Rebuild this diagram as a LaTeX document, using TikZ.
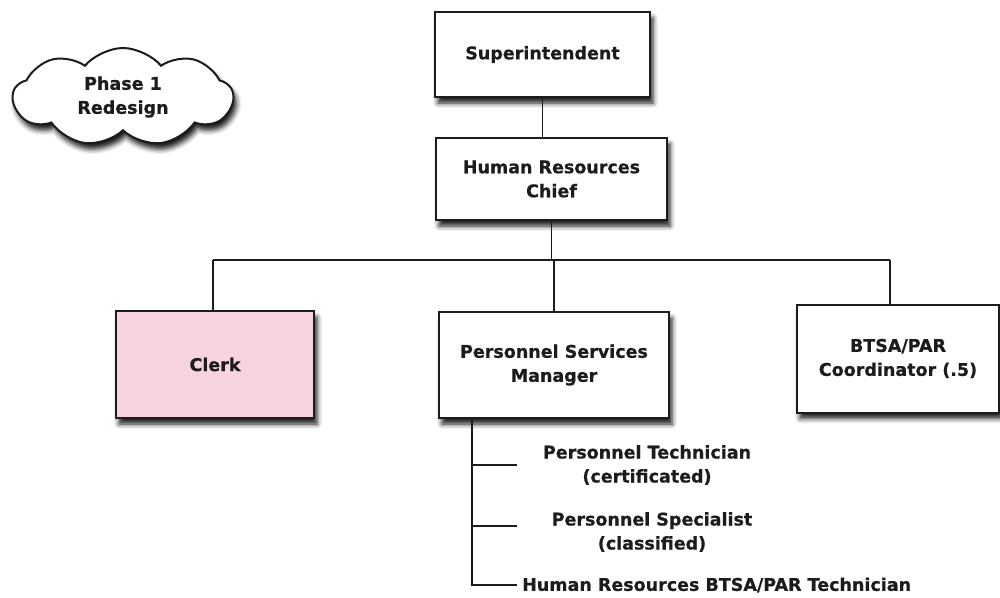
\documentclass[tikz,border=0pt]{standalone}
\usepackage{fontspec}
\setmainfont{DejaVu Sans}
\newfontfamily\heavy[FakeBold=0.6]{DejaVu Sans Bold}
\usetikzlibrary{shapes.symbols,shadows.blur}
\definecolor{pinkfill}{HTML}{F8D4E0}
\definecolor{edge}{HTML}{1C1C1C}
\begin{document}
\begin{tikzpicture}[x=1pt,y=-1pt,
  txt/.style={font=\heavy\fontsize{17.5}{24}\selectfont, align=center, text=edge},
  shade/.style={blur shadow={shadow xshift=3pt, shadow yshift=-6pt, shadow blur radius=5pt, shadow opacity=90}},
  box/.style={txt, shade, draw=edge, line width=2pt, fill=white, inner sep=0pt},
  conn/.style={draw=edge, line width=1.5pt},
  lbl/.style={txt, inner sep=0pt}]
\useasboundingbox (0,0) rectangle (1000,597);

\node[box, minimum width=215pt, minimum height=85pt] (super) at (542.5,54.5) {Superintendent};
\node[box, minimum width=231pt, minimum height=82pt] (hrc) at (551.5,179) {Human Resources\\Chief};
\node[box, fill=pinkfill, minimum width=198pt, minimum height=107pt] (clerk) at (215,364.5) {Clerk};
\node[box, minimum width=230pt, minimum height=106pt] (psm) at (554,365) {Personnel Services\\Manager};
\node[box, minimum width=202pt, minimum height=108pt] (btsa) at (898,358.5) {BTSA/PAR\\Coordinator (.5)};

\node[txt, shade, draw=edge, line width=2pt, fill=white, cloud, cloud puffs=9, cloud puff arc=100, aspect=2.2,
  minimum width=220pt, minimum height=98pt, inner sep=0pt]
  (cloud) at (123,97) {Phase 1\\Redesign};

\coordinate (bl) at (213,260);
\coordinate (br) at (890,260);
\coordinate (trunk) at (472,418);
\coordinate (b1) at (517,465);
\coordinate (b2) at (517,526);
\coordinate (b3) at (517,585);

\node[lbl] (t1) at (647,465) {Personnel Technician\\(certificated)};
\node[lbl] (t2) at (652,532) {Personnel Specialist\\(classified)};
\node[lbl, anchor=west] (t3) at (522,585) {Human Resources BTSA/PAR Technician};

\draw[conn] (super.south) -- (super.south |- hrc.north);
\draw[conn] (hrc.south) -- (hrc.south |- bl);
\draw[conn] (bl) -- (br);
\draw[conn] (bl) -- (bl |- clerk.north);
\draw[conn] (br) -- (br |- btsa.north);
\draw[conn] (psm.north |- bl) -- (psm.north);
\draw[conn] (trunk) -- (trunk |- b3) -- (b3);
\draw[conn] (trunk |- b1) -- (b1);
\draw[conn] (trunk |- b2) -- (b2);
\end{tikzpicture}
\end{document}
